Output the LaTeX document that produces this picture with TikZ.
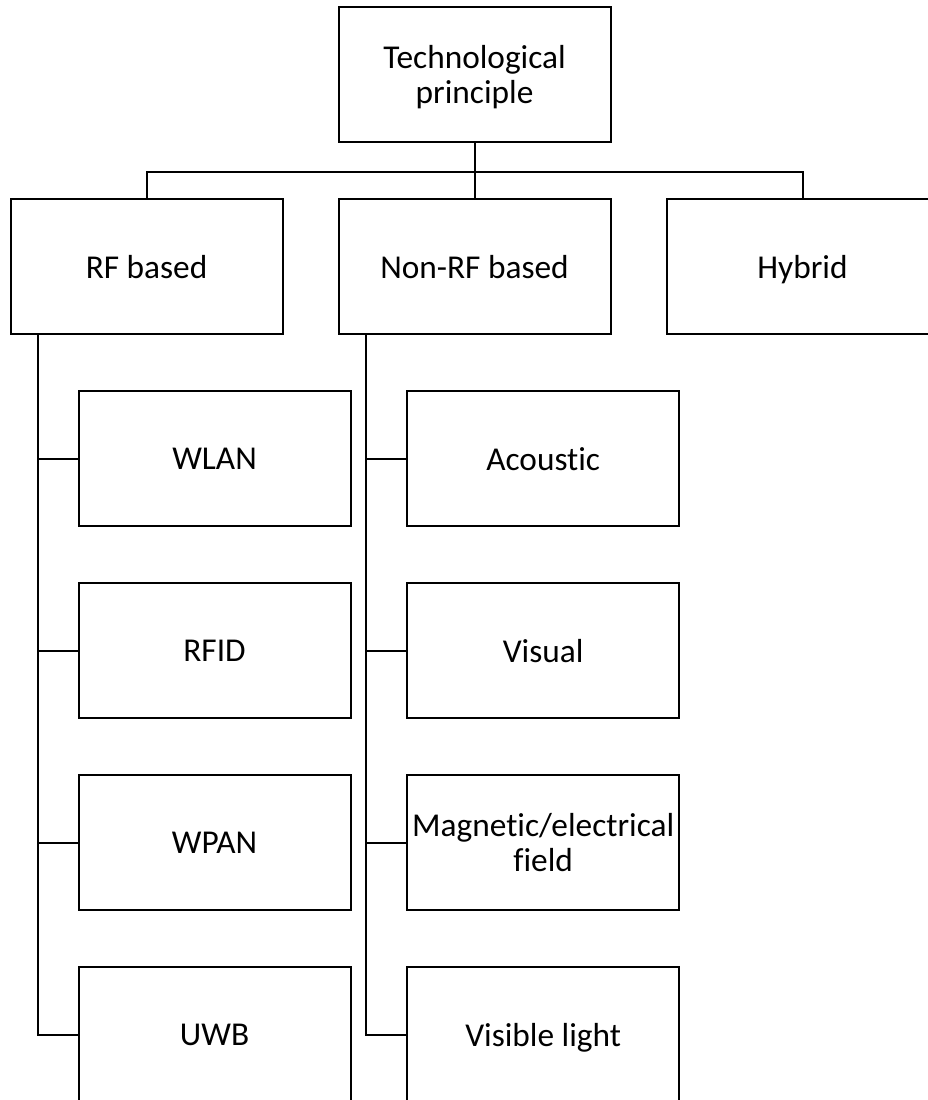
\documentclass[tikz,border=0pt]{standalone}
\usepackage{fontspec}
\setmainfont{Carlito}[Ligatures=NoCommon]
\usetikzlibrary{positioning}

\begin{document}
\begin{tikzpicture}
    \tikzset{block/.style={shape=rectangle,draw,line width=1.5pt,minimum width=204pt,minimum height=101.25pt,inner sep=0pt,align=center,text depth=0pt,font=\fontsize{25pt}{26.5pt}\selectfont}}
    \tikzset{link/.style={line width=1.5pt}}
    \clip (0,0) rectangle (696pt,-825pt);
    \node[block] (tp) at (355.9pt,-55.9pt) {Technological\\principle};
    \node[block] (nrf) [below=41.25pt of tp] {Non-RF based};
    \node[block] (rf) [left=40.5pt of nrf] {RF based};
    \node[block] (hyb) [right=40.5pt of nrf] {Hybrid};

    \node[block] (wlan) [below=41.25pt of rf, xshift=51pt] {WLAN};
    \node[block] (rfid) [below=41.25pt of wlan] {RFID};
    \node[block] (wpan) [below=41.25pt of rfid] {WPAN};
    \node[block] (uwb) [below=41.25pt of wpan] {UWB};

    \node[block] (aco) [below=41.25pt of nrf, xshift=51.5pt] {Acoustic};
    \node[block] (vis) [below=41.25pt of aco] {Visual};
    \node[block] (mag) [below=41.25pt of vis] {Magnetic/electrical\\field};
    \node[block] (vlc) [below=41.25pt of mag] {Visible light};

    \draw[link] (tp.south) -- (nrf.north);
    \draw[link] (tp.south) -- ++(0,-21.4pt) -| (rf.north);
    \draw[link] (tp.south) -- ++(0,-21.4pt) -| (hyb.north);

    \draw[link] ([xshift=21pt]rf.south west) |- (wlan.west);
    \draw[link] ([xshift=21pt]rf.south west) |- (rfid.west);
    \draw[link] ([xshift=21pt]rf.south west) |- (wpan.west);
    \draw[link] ([xshift=21pt]rf.south west) |- (uwb.west);

    \draw[link] ([xshift=21pt]nrf.south west) |- (aco.west);
    \draw[link] ([xshift=21pt]nrf.south west) |- (vis.west);
    \draw[link] ([xshift=21pt]nrf.south west) |- (mag.west);
    \draw[link] ([xshift=21pt]nrf.south west) |- (vlc.west);
  \end{tikzpicture}
\end{document}
